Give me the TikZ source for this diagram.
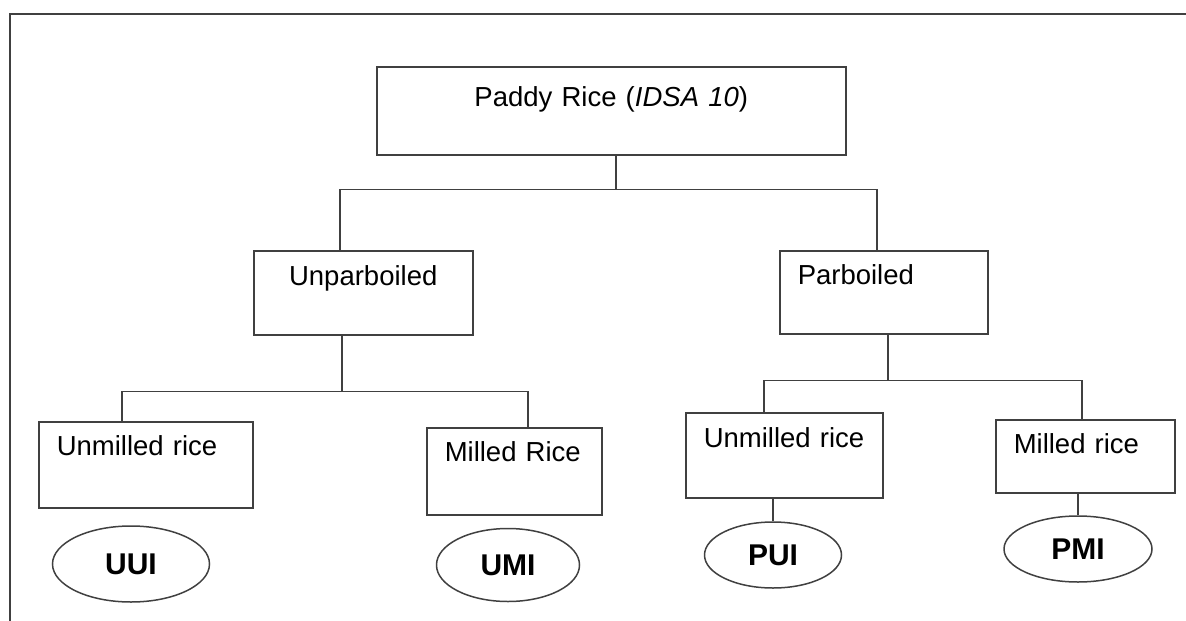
\documentclass[tikz,border=0pt]{standalone}
\usepackage{fontspec}
\setmainfont{Liberation Sans}
\usetikzlibrary{shapes.geometric}

\definecolor{linecol}{gray}{0.25}

\tikzset{
  box/.style={draw=linecol, line width=1.5pt, anchor=north west, inner xsep=18pt,
    inner ysep=0pt, text height=34pt, align=left, font=\fontsize{27.5}{32}\selectfont},
  oval/.style={draw=linecol, line width=1.5pt, ellipse, inner sep=0pt,
    font=\bfseries\fontsize{30}{34}\selectfont},
  link/.style={draw=linecol, line width=1.5pt}
}

\begin{document}
\begin{tikzpicture}[x=1pt, y=-1pt, line join=miter]
  \useasboundingbox (0,0) rectangle (1186,621);

  % Frame
  \draw[link] (10,621) -- (10,14) -- (1190,14);

  % Boxes
  \node[box, align=center, text width=433pt, text height=40pt, text depth=48pt] (paddy) at (376,66) {Paddy Rice (\textit{IDSA 10})};
  \node[box, align=center, text width=183pt, text height=35pt, text depth=49pt] (unpar) at (253,250) {Unparboiled};
  \node[box, text width=172pt, text depth=49pt] (parb) at (779,250) {Parboiled};
  \node[box, text width=178pt, text depth=52pt] (uu) at (38,421) {Unmilled rice};
  \node[box, text width=139pt, text depth=53pt] (um) at (426,427) {Milled Rice};
  \node[box, text width=161pt, text height=35pt, text depth=50pt] (pu) at (685,412) {Unmilled rice};
  \node[box, text width=143pt, text depth=39pt] (pm) at (995,419) {Milled rice};

  % Codes
  \node[oval, minimum width=157pt, minimum height=76pt] (uui) at (131,564) {UUI};
  \node[oval, minimum width=143pt, minimum height=73pt] (umi) at (508,565) {UMI};
  \node[oval, minimum width=137pt, minimum height=66pt] (pui) at (773,555) {PUI};
  \node[oval, minimum width=148pt, minimum height=66pt] (pmi) at (1078,549) {PMI};

  % Tree
  \draw[link] ([xshift=4.5pt]paddy.south) -- ++(0,34) coordinate (j0);
  \draw[link] ([xshift=-23.5pt]unpar.north) |- (j0) -| ([xshift=-7pt]parb.north);
  \draw[link] ([xshift=-21.5pt]unpar.south) -- ++(0,56) coordinate (j1);
  \draw[link] ([xshift=-24pt]uu.north) |- (j1) -| ([xshift=13.5pt]um.north);
  \draw[link] ([xshift=4pt]parb.south) -- ++(0,46) coordinate (j2);
  \draw[link] ([xshift=-20.5pt]pu.north) |- (j2) -| ([xshift=-3.5pt]pm.north);
  \draw[link] (pui.north) -- (pui.north |- pu.south);
  \draw[link] (pmi.north) -- (pmi.north |- pm.south);
\end{tikzpicture}
\end{document}
